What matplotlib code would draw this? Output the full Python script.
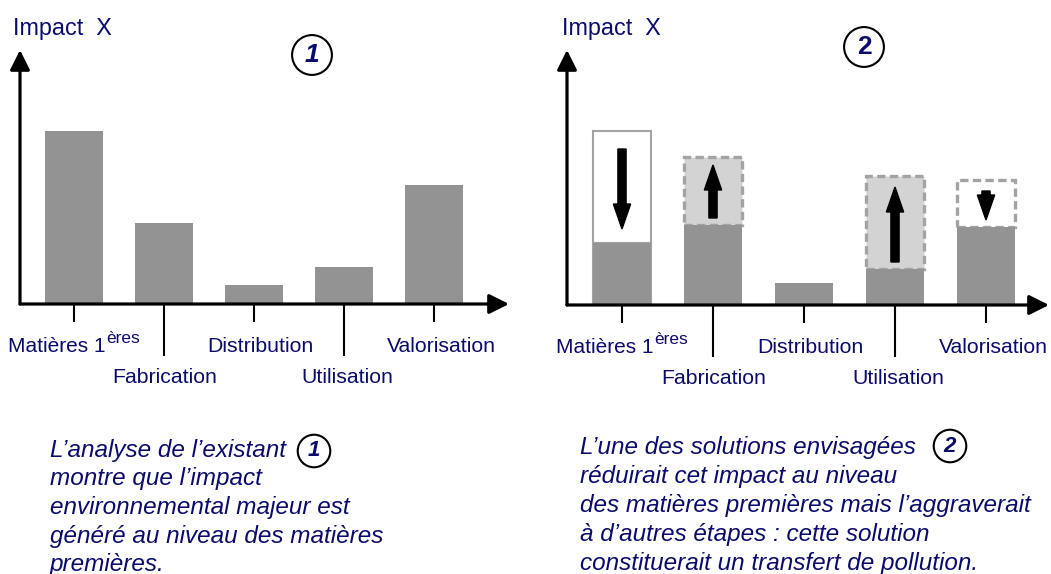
import numpy as np
import matplotlib
matplotlib.use('Agg')
import matplotlib.pyplot as plt

W, H = 1051, 574
NAVY = '#0b0b6c'
GREY = '#939393'
LIGHT = '#d3d3d3'
EDGE = '#a3a3a3'

plt.rcParams['font.family'] = ['Liberation Sans', 'DejaVu Sans']

# étapes du cycle de vie
stages = ['Matières 1', 'Fabrication', 'Distribution', 'Utilisation', 'Valorisation']
stage_sup = ['ères', '', '', '', '']
# situation existante (1)
impact_initial = [17.3, 8.1, 1.9, 3.7, 11.9]
# solution envisagée (2)
impact_solution = [6.2, 8.0, 2.2, 3.6, 7.8]
impact_envelope = [17.4, 14.8, np.nan, 12.9, 12.5]
box_fill = ['white', LIGHT, None, LIGHT, 'white']
box_dashed = [False, True, False, True, True]
arrow_from = [15.6, 8.7, np.nan, 4.3, 11.4]
arrow_to = [7.6, 14.0, np.nan, 11.8, 8.5]

text1 = ["L\u2019analyse de l\u2019existant",
         "montre que l\u2019impact",
         "environnemental majeur est",
         "généré au niveau des matières",
         "premières."]
text2 = ["L\u2019une des solutions envisagées",
         "réduirait cet impact au niveau",
         "des matières premières mais l\u2019aggraverait",
         "à d\u2019autres étapes : cette solution",
         "constituerait un transfert de pollution."]

# petit décalage horizontal des étiquettes (pixels)
label_dx = [32, 1, 6, 3, 7]


def fx(px):
    return px / W


def fy(py):
    return 1 - py / H


fig = plt.figure(figsize=(W / 100, H / 100), dpi=100)


def make_axes(left, right, base, top, x0, step, ymax):
    ax = fig.add_axes([fx(left), fy(base), fx(right - left), (base - top) / H])
    ax.set_xlim((left - x0) / step, (right - x0) / step)
    ax.set_ylim(0, ymax)
    for s in ax.spines.values():
        s.set_visible(False)
    ax.set_yticks([])
    ax.set_xticks([0, 2, 4])
    ax.set_xticks([1, 3], minor=True)
    ax.tick_params(axis='x', which='major', length=13, width=1.5, labelbottom=False)
    ax.tick_params(axis='x', which='minor', length=37.5, width=1.5, labelbottom=False)
    ax.patch.set_alpha(0)
    arrow = dict(arrowstyle='-|>,head_length=0.6,head_width=0.3', lw=2.3,
                 color='black', mutation_scale=20, shrinkA=0, shrinkB=0)
    ax.annotate('', xy=(1, 0), xytext=(0, 0), xycoords='axes fraction',
                arrowprops=arrow, annotation_clip=False)
    ax.annotate('', xy=(0, 1), xytext=(0, 0), xycoords='axes fraction',
                arrowprops=arrow, annotation_clip=False)
    trans = ax.get_xaxis_transform()
    for i, lab in enumerate(stages):
        ybase = base + (48 if i % 2 == 0 else 79)
        yrel = -(ybase - base) / (base - top)
        if stage_sup[i]:
            ax.annotate(lab, xy=(i, yrel), xycoords=trans, xytext=(label_dx[i], 0),
                        textcoords='offset pixels', ha='right', va='baseline',
                        fontsize=15, color=NAVY, annotation_clip=False)
            ax.annotate(stage_sup[i], xy=(i, yrel), xycoords=trans,
                        xytext=(label_dx[i], 9), textcoords='offset pixels',
                        ha='left', va='baseline', fontsize=12.5, color=NAVY,
                        annotation_clip=False)
        else:
            ax.annotate(lab, xy=(i, yrel), xycoords=trans, xytext=(label_dx[i], 0),
                        textcoords='offset pixels', ha='center', va='baseline',
                        fontsize=15.3, color=NAVY, annotation_clip=False)
    return ax


def circled(x, y, num, size, pad, italic=True):
    fig.text(fx(x), fy(y), num, ha='center', va='center', fontsize=size,
             fontweight='bold', style='italic' if italic else 'normal', color=NAVY,
             bbox=dict(boxstyle='circle,pad=%s' % pad, fc='white', ec='black', lw=1.5))


# --- panneau 1
ax1 = make_axes(20, 509, 304, 50, 74, 90, 25.4)
ax1.bar(range(5), impact_initial, width=0.64, color=GREY, zorder=2)

# --- panneau 2
ax2 = make_axes(567, 1049, 305, 50, 622, 91, 25.5)
for i in range(5):
    if np.isnan(impact_envelope[i]):
        continue
    ax2.bar(i, impact_envelope[i] - impact_solution[i], bottom=impact_solution[i],
            width=0.63, fc=box_fill[i], ec=EDGE, lw=2.4 if box_dashed[i] else 1.5,
            ls=(0, (2.5, 1.3)) if box_dashed[i] else '-', zorder=1)
ax2.bar(0, impact_solution[0], width=0.63, fc='white', ec=EDGE, lw=1.5, zorder=1)
ax2.bar(range(5), impact_solution, width=0.63, color=GREY, zorder=2)
for i in range(5):
    if np.isnan(arrow_from[i]):
        continue
    ax2.arrow(i, arrow_from[i], 0, arrow_to[i] - arrow_from[i], width=0.09,
              head_width=0.19, head_length=2.5, length_includes_head=True,
              fc='black', ec='black', zorder=3)

# titres d'axe
fig.text(fx(13), fy(35), 'Impact  X', fontsize=16.8, color=NAVY, va='baseline')
fig.text(fx(562), fy(35), 'Impact  X', fontsize=16.8, color=NAVY, va='baseline')

circled(312, 55, '1', 19, 0.3)
circled(864, 47, '2', 19, 0.3, italic=False)

# commentaires
for k, line in enumerate(text1):
    fig.text(fx(50), fy(457 + 28.5 * k), line, fontsize=17.5, style='italic',
             color=NAVY, va='baseline')
for k, line in enumerate(text2):
    fig.text(fx(580), fy(454 + 29 * k), line, fontsize=17.5, style='italic',
             color=NAVY, va='baseline')
circled(314, 451, '1', 16, 0.26)
circled(950, 446, '2', 16, 0.26)

fig.savefig('out.png', dpi=100)
